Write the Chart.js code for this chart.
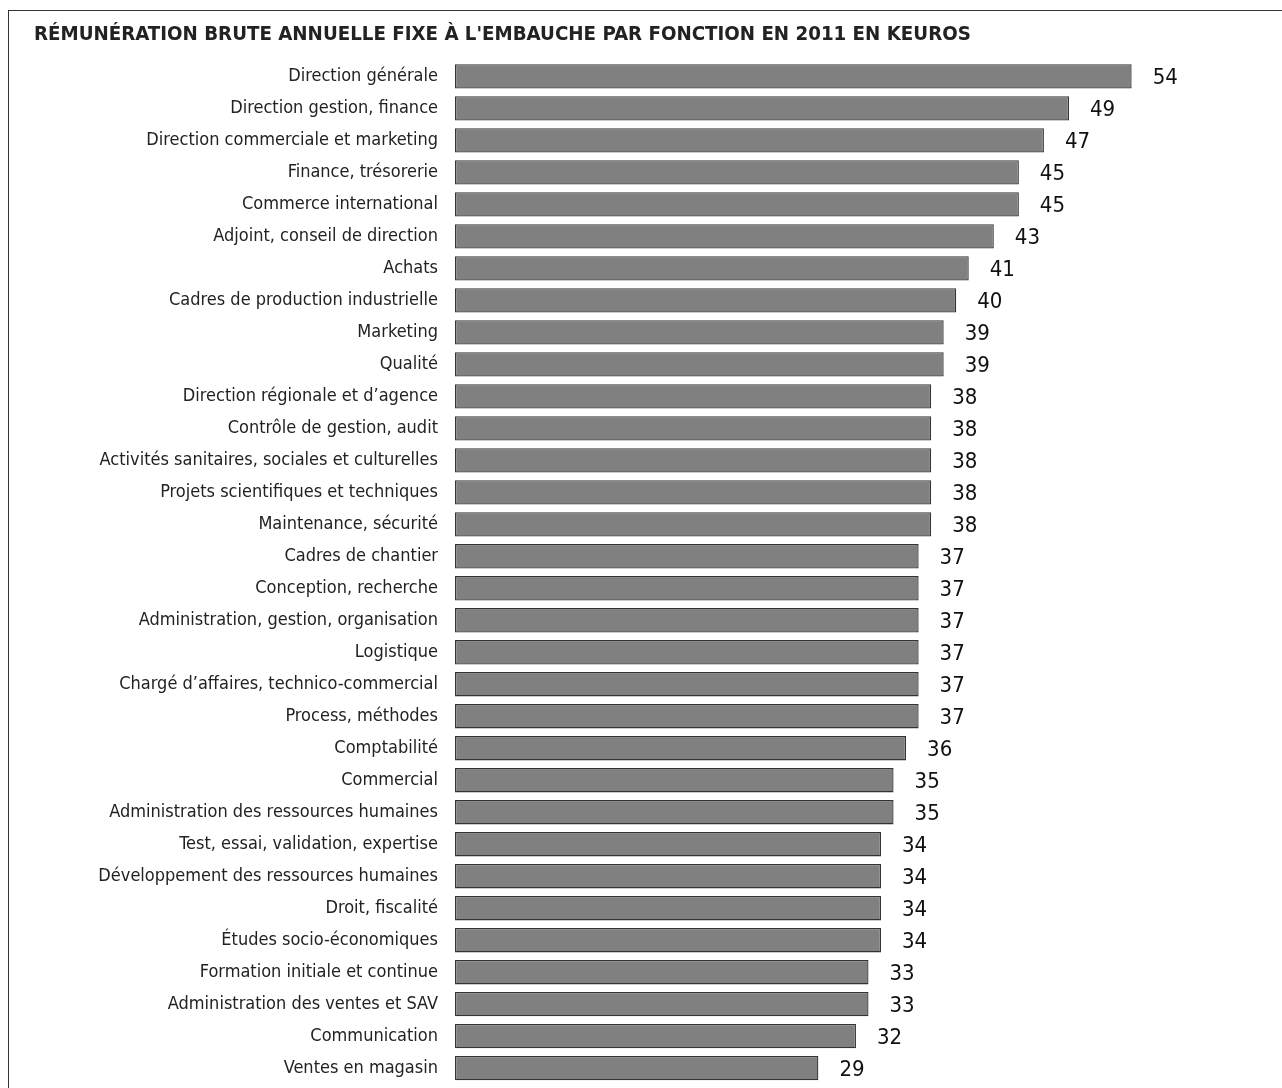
<!DOCTYPE html>
<html>
<head>
<meta charset="utf-8">
<script src="https://cdn.jsdelivr.net/npm/chart.js@4/dist/chart.umd.min.js"></script>
<style>
html,body{margin:0;padding:0;background:#fff;overflow:hidden;}
#wrap{position:absolute;left:0;top:0;width:1282px;height:1088px;overflow:hidden;}
#frame{position:absolute;left:8px;top:10px;width:1280px;height:1100px;border-left:1.5px solid #333;border-top:1.5px solid #333;}
canvas{position:absolute;left:0;top:0;}
</style>
</head>
<body>
<div id="wrap">
<div id="frame"></div>
<canvas id="c" width="1282" height="1112"></canvas>
</div>
<script>
const titleText = "RÉMUNÉRATION BRUTE ANNUELLE FIXE À L'EMBAUCHE PAR FONCTION EN 2011 EN KEUROS";
const categories = [
  "Direction générale",
  "Direction gestion, finance",
  "Direction commerciale et marketing",
  "Finance, trésorerie",
  "Commerce international",
  "Adjoint, conseil de direction",
  "Achats",
  "Cadres de production industrielle",
  "Marketing",
  "Qualité",
  "Direction régionale et d’agence",
  "Contrôle de gestion, audit",
  "Activités sanitaires, sociales et culturelles",
  "Projets scientifiques et techniques",
  "Maintenance, sécurité",
  "Cadres de chantier",
  "Conception, recherche",
  "Administration, gestion, organisation",
  "Logistique",
  "Chargé d’affaires, technico-commercial",
  "Process, méthodes",
  "Comptabilité",
  "Commercial",
  "Administration des ressources humaines",
  "Test, essai, validation, expertise",
  "Développement des ressources humaines",
  "Droit, fiscalité",
  "Études socio-économiques",
  "Formation initiale et continue",
  "Administration des ventes et SAV",
  "Communication",
  "Ventes en magasin"
];
const values = [54,49,47,45,45,43,41,40,39,39,38,38,38,38,38,37,37,37,37,37,37,36,35,35,34,34,34,34,33,33,32,29];

const FONT = "'DejaVu Sans Condensed', 'DejaVu Sans', sans-serif";

const valueLabels = {
  id: 'valueLabels',
  afterDatasetsDraw(chart) {
    const ctx = chart.ctx;
    const meta = chart.getDatasetMeta(0);
    ctx.save();
    ctx.font = "22px " + FONT;
    ctx.fillStyle = "#111";
    ctx.textAlign = "left";
    ctx.textBaseline = "middle";
    meta.data.forEach((bar, i) => {
      ctx.fillText(String(values[i]), bar.x + 21, bar.y + 2);
    });
    ctx.restore();
  }
};

Chart.defaults.font.family = FONT;
new Chart(document.getElementById('c'), {
  type: 'bar',
  data: {
    labels: categories,
    datasets: [{
      data: values,
      backgroundColor: '#808080',
      borderColor: '#333333',
      borderWidth: 1.3,
      borderSkipped: false,
      barPercentage: 0.76,
      categoryPercentage: 1.0
    }]
  },
  options: {
    indexAxis: 'y',
    responsive: false,
    animation: false,
    devicePixelRatio: 1,
    layout: { padding: { left: 34, right: 0, top: 0, bottom: 4 } },
    plugins: {
      legend: { display: false },
      tooltip: { enabled: false },
      title: {
        display: true,
        text: titleText,
        align: 'start',
        color: '#222',
        font: { family: FONT, size: 20.3, weight: 'bold' },
        padding: { top: 23, bottom: 13 }
      }
    },
    scales: {
      x: {
        display: false,
        min: 0,
        max: 66,
        grid: { display: false }
      },
      y: {
        grid: { display: false, drawTicks: false },
        border: { display: false },
        ticks: {
          color: '#222',
          font: { family: FONT, size: 18 },
          padding: 17
        },
        afterFit(scale) { scale.width = 455 - 34; }
      }
    }
  },
  plugins: [valueLabels]
});
</script>
</body>
</html>
